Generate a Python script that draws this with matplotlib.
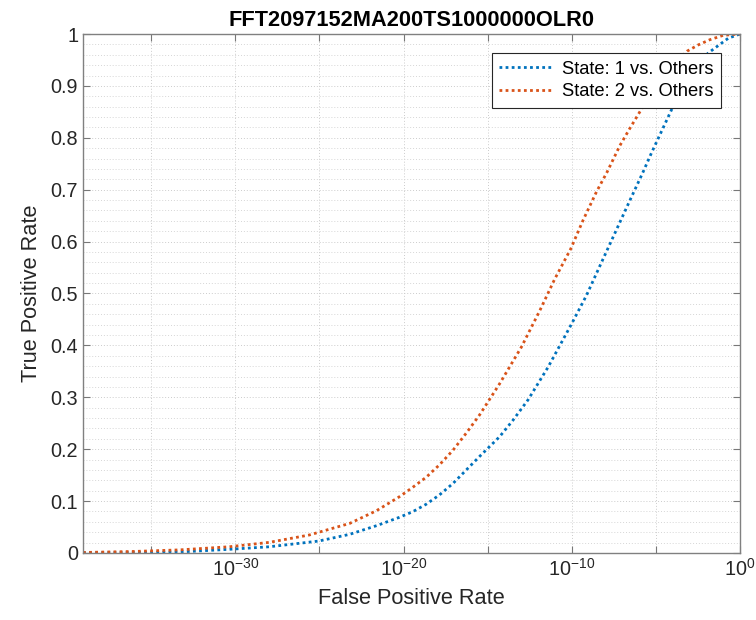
import numpy as np
import matplotlib.pyplot as plt
from matplotlib.ticker import FixedLocator, MultipleLocator, FuncFormatter

plt.rcParams['font.family'] = ['Liberation Sans', 'DejaVu Sans']
plt.rcParams['mathtext.fontset'] = 'custom'
plt.rcParams['mathtext.rm'] = 'Liberation Sans'
plt.rcParams['mathtext.it'] = 'Liberation Sans'

# ROC curves (log10 of false positive rate, true positive rate)
log_fpr_1 = [-39.05, -35, -33.3, -30.36, -27.98, -25.04, -23.2, -21.6, -20.24, -19.45,
             -18.65, -17.86, -17.06, -16.27, -15.48, -14.29, -13.49, -12.6, -11.41, -10.0,
             -9.13, -8.33, -7.44, -6.55, -5.79, -5.26, -4.07, -3.0, -1.9, -1.49, -0.69, 0]
tpr_1 = [0.0005, 0.0012, 0.002, 0.0071, 0.012, 0.023, 0.036, 0.0527, 0.0688, 0.0796,
         0.094, 0.112, 0.134, 0.16, 0.186, 0.224, 0.256, 0.295, 0.358, 0.442,
         0.496, 0.553, 0.616, 0.679, 0.732, 0.771, 0.854, 0.92, 0.963, 0.973, 0.992, 1.0]

log_fpr_2 = [-39.05, -36, -33.3, -30.36, -27.98, -25.6, -23.2, -21.6, -20.24, -19.45,
             -18.65, -17.86, -17.06, -16.27, -15.48, -14.29, -12.99, -11.9, -11.01, -10.06,
             -9.33, -8.53, -7.9, -7.14, -6.55, -5.75, -4.5, -3.14, -2.48, -1.79, -0.99, 0]
tpr_2 = [0.001, 0.003, 0.006, 0.012, 0.0205, 0.0347, 0.057, 0.0816, 0.1085, 0.1266,
         0.146, 0.170, 0.198, 0.231, 0.266, 0.326, 0.397, 0.467, 0.528, 0.586,
         0.641, 0.696, 0.734, 0.785, 0.818, 0.861, 0.922, 0.967, 0.979, 0.989, 0.9975, 1.0]

labels = ['State: 1 vs. Others', 'State: 2 vs. Others']
colors = ['#0072BD', '#D95319']
title = 'FFT2097152MA200TS1000000OLR0'

fig = plt.figure(figsize=(7.56, 6.2), dpi=100)
ax = fig.add_axes([83 / 756, 67 / 620, 657 / 756, 519 / 620])

for lf, tp, lab, c in zip([log_fpr_1, log_fpr_2], [tpr_1, tpr_2], labels, colors):
    ax.plot(10.0 ** np.array(lf), tp, color=c, lw=2.0, linestyle=(0, (1, 1.2)),
            dash_capstyle='butt', label=lab)

ax.set_xscale('log')
ax.set_xlim(10 ** -39.05, 1)
ax.set_ylim(0, 1)

ax.xaxis.set_major_locator(FixedLocator([10.0 ** k for k in range(-35, 1, 5)]))
ax.xaxis.set_minor_locator(FixedLocator([]))


def xfmt(v, pos):
    k = int(round(np.log10(v)))
    return r'$\mathregular{10^{%d}}$' % k if k % 10 == 0 else ''


ax.xaxis.set_major_formatter(FuncFormatter(xfmt))
ax.yaxis.set_major_locator(MultipleLocator(0.1))
ax.yaxis.set_minor_locator(MultipleLocator(0.02))
ax.yaxis.set_major_formatter(FuncFormatter(lambda v, p: '%g' % round(v, 2)))

ax.grid(True, which='major', linestyle=(0, (1, 2)), color='#cccccc', lw=0.7)
ax.grid(True, which='minor', axis='y', linestyle=(0, (1, 2)), color='#d6d6d6', lw=0.7)
ax.set_axisbelow(True)

ax.tick_params(which='major', direction='in', length=5, width=0.8, top=True, right=True,
               colors='#777777', labelcolor='#262626', labelsize=14.3)
ax.tick_params(which='minor', length=0, top=True, right=True)
for s in ax.spines.values():
    s.set_color('#808080')
    s.set_linewidth(1.0)

ax.set_xlabel('False Positive Rate', fontsize=15.7, color='#262626', labelpad=6)
ax.set_ylabel('True Positive Rate', fontsize=15.7, color='#262626', labelpad=6)
ax.set_title(title, fontsize=15.7, fontweight='bold', pad=6)

leg = ax.legend(loc='upper right', bbox_to_anchor=(638 / 657, 500 / 519), borderaxespad=0,
                fontsize=13.2, fancybox=False, framealpha=1, edgecolor='#262626',
                handlelength=3.0, borderpad=0.42, labelspacing=0.3, handletextpad=0.4)
leg.get_frame().set_linewidth(0.8)

fig.savefig('out.png', dpi=100)
